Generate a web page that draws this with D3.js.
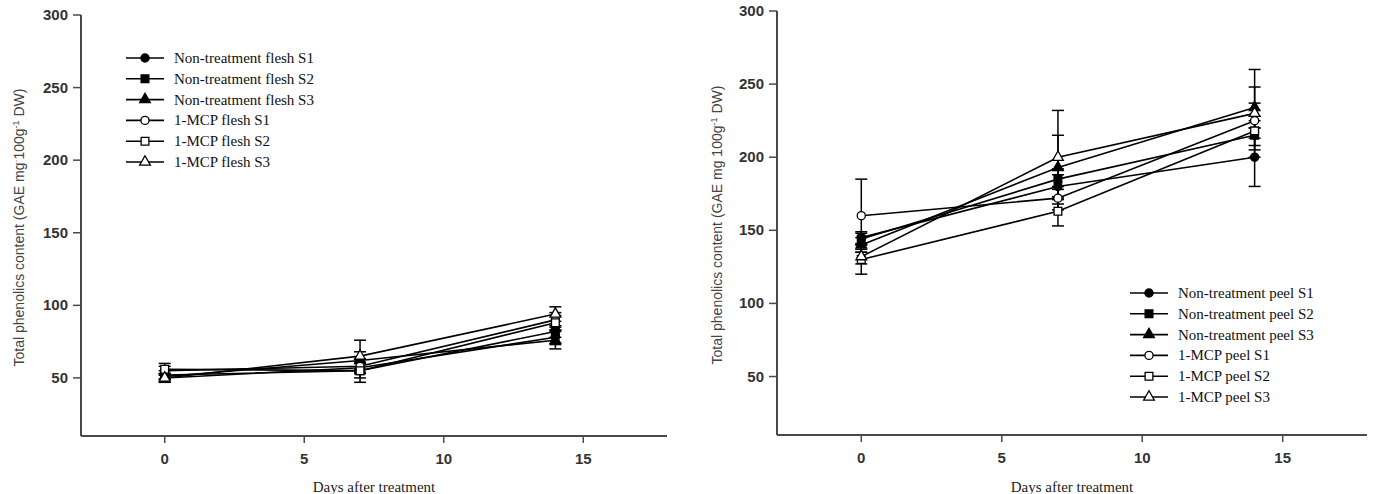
<!DOCTYPE html>
<html>
  <head>
    <meta charset="UTF-8" />
    <title>Total phenolics content</title>
    <style>
      body { margin: 0; background: #fff; }
      svg { display: block; }
      .tick-label { font-family: "Liberation Sans", Arial, sans-serif; font-weight: bold; font-size: 15px; fill: #333; }
      .axis-title { font-family: "Liberation Sans", Arial, sans-serif; font-size: 14px; fill: #444; }
      .x-title { font-family: "Liberation Serif", "Times New Roman", serif; font-size: 15px; fill: #222; }
      .legend-text { font-family: "Liberation Serif", "Times New Roman", serif; font-size: 15px; fill: #111; }
    </style>
  </head>
  <body>
    <svg width="1379" height="494"></svg>
    <script src="https://cdnjs.cloudflare.com/ajax/libs/d3/7.8.5/d3.min.js"></script>
    <script>
// data
const days = [0, 7, 14];
const xTicks = [0, 5, 10, 15];
const yTicks = [50, 100, 150, 200, 250, 300];

const fleshLabels = ['Non-treatment flesh S1', 'Non-treatment flesh S2', 'Non-treatment flesh S3',
                     '1-MCP flesh S1', '1-MCP flesh S2', '1-MCP flesh S3'];
const fleshValues = [[50, 57, 78], [52, 55, 82], [51, 62, 76],
                     [55, 58, 90], [56, 55, 88], [50, 65, 94]];
const fleshErrors = [[3, 4, 5], [3, 5, 4], [2, 6, 6],
                     [3, 5, 5], [4, 8, 5], [3, 11, 5]];

const peelLabels = ['Non-treatment peel S1', 'Non-treatment peel S2', 'Non-treatment peel S3',
                    '1-MCP peel S1', '1-MCP peel S2', '1-MCP peel S3'];
const peelValues = [[145, 180, 200], [144, 185, 215], [140, 193, 234],
                    [160, 172, 225], [130, 163, 218], [132, 200, 230]];
const peelErrors = [[4, 8, 20], [4, 7, 10], [5, 22, 14],
                    [25, 8, 12], [10, 10, 10], [5, 32, 30]];

const shapes = [d3.symbolCircle, d3.symbolSquare, d3.symbolTriangle,
                d3.symbolCircle, d3.symbolSquare, d3.symbolTriangle];
const sizes = [52, 60, 50, 52, 60, 50];
const filled = [true, true, true, false, false, false];

const svg = d3.select('svg');

function panel(opt) {
  const x = d3.scaleLinear().domain([-3, 18]).range(opt.xr);
  const y = d3.scaleLinear().domain([10, 300]).range(opt.yr);
  const g = svg.append('g');

  // axes
  const axisColor = '#4a4a4a';
  g.append('line').attr('x1', x(-3)).attr('x2', x(-3)).attr('y1', y(300)).attr('y2', y(10))
    .attr('stroke', axisColor).attr('stroke-width', 2);
  g.append('line').attr('x1', x(-3)).attr('x2', x(18)).attr('y1', y(10)).attr('y2', y(10))
    .attr('stroke', axisColor).attr('stroke-width', 2);

  yTicks.forEach(t => {
    g.append('line').attr('x1', x(-3) - 8).attr('x2', x(-3)).attr('y1', y(t)).attr('y2', y(t))
      .attr('stroke', axisColor).attr('stroke-width', 1.5);
    g.append('text').attr('class', 'tick-label').attr('x', x(-3) - 13).attr('y', y(t) + 5)
      .attr('text-anchor', 'end').text(t);
  });
  xTicks.forEach(t => {
    g.append('line').attr('x1', x(t)).attr('x2', x(t)).attr('y1', y(10)).attr('y2', y(10) + 7)
      .attr('stroke', axisColor).attr('stroke-width', 1.5);
    g.append('text').attr('class', 'tick-label').attr('x', x(t)).attr('y', y(10) + 28)
      .attr('text-anchor', 'middle').text(t);
  });

  // titles
  const yt = g.append('text').attr('class', 'axis-title')
    .attr('transform', `translate(${opt.titleX},${(y(300) + y(10)) / 2 + 2}) rotate(-90)`)
    .attr('text-anchor', 'middle');
  yt.append('tspan').text(opt.unitA);
  if (opt.supA) yt.append('tspan').attr('dy', -5).attr('font-size', 9).text(opt.supA);
  yt.append('tspan').attr('dy', opt.supA ? 5 : 0).text('100g');
  yt.append('tspan').attr('dy', -5).attr('font-size', 9).text('-1');
  yt.append('tspan').attr('dy', 5).text(' DW)');

  g.append('text').attr('class', 'x-title').attr('x', (x(-3) + x(18)) / 2).attr('y', 492)
    .attr('text-anchor', 'middle').text('Days after treatment');

  // series lines
  const line = d3.line().x((d, i) => x(days[i])).y(d => y(d));
  opt.values.forEach(v => {
    g.append('path').attr('d', line(v)).attr('fill', 'none')
      .attr('stroke', '#000').attr('stroke-width', 1.6);
  });

  // error bars
  opt.values.forEach((v, s) => {
    v.forEach((d, i) => {
      const e = opt.errors[s][i];
      const cx = x(days[i]);
      g.append('line').attr('x1', cx).attr('x2', cx).attr('y1', y(d - e)).attr('y2', y(d + e))
        .attr('stroke', '#000').attr('stroke-width', 1.5);
      [d - e, d + e].forEach(c => {
        g.append('line').attr('x1', cx - 6).attr('x2', cx + 6).attr('y1', y(c)).attr('y2', y(c))
          .attr('stroke', '#000').attr('stroke-width', 1.5);
      });
    });
  });

  // markers
  opt.values.forEach((v, s) => {
    const sym = d3.symbol().type(shapes[s]).size(sizes[s]);
    v.forEach((d, i) => {
      g.append('path').attr('d', sym())
        .attr('transform', `translate(${x(days[i])},${y(d)})`)
        .attr('fill', filled[s] ? '#000' : '#fff')
        .attr('stroke', '#000').attr('stroke-width', 1.3);
    });
  });

  // legend
  opt.labels.forEach((lab, s) => {
    const ly = opt.legY + s * 20.8;
    g.append('line').attr('x1', opt.legX).attr('x2', opt.legX + 38).attr('y1', ly).attr('y2', ly)
      .attr('stroke', '#000').attr('stroke-width', 1.6);
    const sym = d3.symbol().type(shapes[s]).size(sizes[s]);
    g.append('path').attr('d', sym()).attr('transform', `translate(${opt.legX + 19},${ly})`)
      .attr('fill', filled[s] ? '#000' : '#fff').attr('stroke', '#000').attr('stroke-width', 1.3);
    g.append('text').attr('class', 'legend-text').attr('x', opt.legX + 48).attr('y', ly + 5).text(lab);
  });
}

panel({
  xr: [81, 667], yr: [436, 15], titleX: 24,
  unitA: 'Total phenolics content (GAE mg', supA: '·',
  values: fleshValues, errors: fleshErrors, labels: fleshLabels,
  legX: 126, legY: 58
});

panel({
  xr: [777, 1367], yr: [435, 11], titleX: 722,
  unitA: 'Total phenolics content (GAE mg ', supA: null,
  values: peelValues, errors: peelErrors, labels: peelLabels,
  legX: 1130, legY: 293
});
    </script>
  </body>
</html>
